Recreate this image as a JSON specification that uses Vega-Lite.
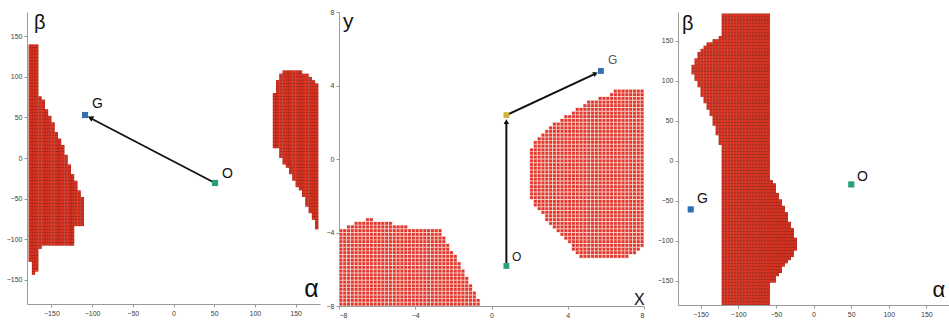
{
  "$schema": "https://vega.github.io/schema/vega-lite/v6.json",
  "padding": {"left": 6, "top": 8, "right": 0, "bottom": 0},
  "background": "white",
  "config": {
    "view": {"stroke": null},
    "axis": {
      "grid": false,
      "domainColor": "#9a9a9a",
      "tickColor": "#9a9a9a",
      "tickSize": 3,
      "labelFont": "Liberation Sans",
      "labelFontSize": 7,
      "labelColor": "#3a3a3a",
      "labelPadding": 2
    }
  },
  "datasets": {
    "p1cells": [
      {"x": -176, "top": 140, "bot": -128},
      {"x": -172, "top": 140, "bot": -144},
      {"x": -168, "top": 140, "bot": -140},
      {"x": -164, "top": 76, "bot": -112},
      {"x": -160, "top": 72, "bot": -108},
      {"x": -156, "top": 60, "bot": -108},
      {"x": -152, "top": 52, "bot": -108},
      {"x": -148, "top": 44, "bot": -108},
      {"x": -144, "top": 32, "bot": -108},
      {"x": -140, "top": 24, "bot": -108},
      {"x": -136, "top": 16, "bot": -108},
      {"x": -132, "top": 4, "bot": -108},
      {"x": -128, "top": -8, "bot": -108},
      {"x": -124, "top": -20, "bot": -108},
      {"x": -120, "top": -28, "bot": -84},
      {"x": -116, "top": -40, "bot": -84},
      {"x": -112, "top": -48, "bot": -84},
      {"x": 124, "top": 80, "bot": 12},
      {"x": 128, "top": 96, "bot": 12},
      {"x": 132, "top": 104, "bot": 0},
      {"x": 136, "top": 108, "bot": -8},
      {"x": 140, "top": 108, "bot": -12},
      {"x": 144, "top": 108, "bot": -20},
      {"x": 148, "top": 108, "bot": -28},
      {"x": 152, "top": 108, "bot": -36},
      {"x": 156, "top": 108, "bot": -40},
      {"x": 160, "top": 104, "bot": -48},
      {"x": 164, "top": 104, "bot": -60},
      {"x": 168, "top": 100, "bot": -68},
      {"x": 172, "top": 96, "bot": -76},
      {"x": 176, "top": 92, "bot": -88}
    ],
    "p2cells": [
      {"x": -7.9, "top": -3.8, "bot": -8.0},
      {"x": -7.7, "top": -3.8, "bot": -8.0},
      {"x": -7.5, "top": -3.6, "bot": -8.0},
      {"x": -7.3, "top": -3.6, "bot": -8.0},
      {"x": -7.1, "top": -3.4, "bot": -8.0},
      {"x": -6.9, "top": -3.4, "bot": -8.0},
      {"x": -6.7, "top": -3.4, "bot": -8.0},
      {"x": -6.5, "top": -3.2, "bot": -8.0},
      {"x": -6.3, "top": -3.2, "bot": -8.0},
      {"x": -6.1, "top": -3.4, "bot": -8.0},
      {"x": -5.9, "top": -3.4, "bot": -8.0},
      {"x": -5.7, "top": -3.4, "bot": -8.0},
      {"x": -5.5, "top": -3.4, "bot": -8.0},
      {"x": -5.3, "top": -3.4, "bot": -8.0},
      {"x": -5.1, "top": -3.6, "bot": -8.0},
      {"x": -4.9, "top": -3.6, "bot": -8.0},
      {"x": -4.7, "top": -3.6, "bot": -8.0},
      {"x": -4.5, "top": -3.6, "bot": -8.0},
      {"x": -4.3, "top": -3.8, "bot": -8.0},
      {"x": -4.1, "top": -3.8, "bot": -8.0},
      {"x": -3.9, "top": -3.8, "bot": -8.0},
      {"x": -3.7, "top": -3.8, "bot": -8.0},
      {"x": -3.5, "top": -3.8, "bot": -8.0},
      {"x": -3.3, "top": -3.8, "bot": -8.0},
      {"x": -3.1, "top": -3.8, "bot": -8.0},
      {"x": -2.9, "top": -3.8, "bot": -8.0},
      {"x": -2.7, "top": -3.8, "bot": -8.0},
      {"x": -2.5, "top": -4.2, "bot": -8.0},
      {"x": -2.3, "top": -4.6, "bot": -8.0},
      {"x": -2.1, "top": -5.0, "bot": -8.0},
      {"x": -1.9, "top": -5.2, "bot": -8.0},
      {"x": -1.7, "top": -5.6, "bot": -8.0},
      {"x": -1.5, "top": -6.0, "bot": -8.0},
      {"x": -1.3, "top": -6.4, "bot": -8.0},
      {"x": -1.1, "top": -6.8, "bot": -8.0},
      {"x": -0.9, "top": -7.2, "bot": -8.0},
      {"x": -0.7, "top": -7.6, "bot": -8.0},
      {"x": 2.1, "top": 0.6, "bot": -2.2},
      {"x": 2.3, "top": 1.0, "bot": -2.6},
      {"x": 2.5, "top": 1.2, "bot": -2.8},
      {"x": 2.7, "top": 1.4, "bot": -3.0},
      {"x": 2.9, "top": 1.6, "bot": -3.4},
      {"x": 3.1, "top": 1.8, "bot": -3.6},
      {"x": 3.3, "top": 2.0, "bot": -3.8},
      {"x": 3.5, "top": 2.0, "bot": -4.0},
      {"x": 3.7, "top": 2.2, "bot": -4.2},
      {"x": 3.9, "top": 2.4, "bot": -4.4},
      {"x": 4.1, "top": 2.4, "bot": -4.6},
      {"x": 4.3, "top": 2.6, "bot": -5.0},
      {"x": 4.5, "top": 2.8, "bot": -5.2},
      {"x": 4.7, "top": 2.8, "bot": -5.4},
      {"x": 4.9, "top": 3.0, "bot": -5.4},
      {"x": 5.1, "top": 3.2, "bot": -5.4},
      {"x": 5.3, "top": 3.2, "bot": -5.4},
      {"x": 5.5, "top": 3.2, "bot": -5.4},
      {"x": 5.7, "top": 3.4, "bot": -5.4},
      {"x": 5.9, "top": 3.4, "bot": -5.4},
      {"x": 6.1, "top": 3.4, "bot": -5.4},
      {"x": 6.3, "top": 3.6, "bot": -5.4},
      {"x": 6.5, "top": 3.8, "bot": -5.4},
      {"x": 6.7, "top": 3.8, "bot": -5.4},
      {"x": 6.9, "top": 3.8, "bot": -5.4},
      {"x": 7.1, "top": 3.8, "bot": -5.4},
      {"x": 7.3, "top": 3.8, "bot": -5.2},
      {"x": 7.5, "top": 3.8, "bot": -5.2},
      {"x": 7.7, "top": 3.8, "bot": -5.0},
      {"x": 7.9, "top": 3.8, "bot": -4.8}
    ],
    "p3cells": [
      {"x": -160, "top": 120, "bot": 108},
      {"x": -156, "top": 128, "bot": 100},
      {"x": -152, "top": 136, "bot": 92},
      {"x": -148, "top": 140, "bot": 80},
      {"x": -144, "top": 144, "bot": 72},
      {"x": -140, "top": 148, "bot": 64},
      {"x": -136, "top": 148, "bot": 56},
      {"x": -132, "top": 152, "bot": 44},
      {"x": -128, "top": 152, "bot": 32},
      {"x": -124, "top": 156, "bot": 20},
      {"x": -120, "top": 184, "bot": -180},
      {"x": -116, "top": 184, "bot": -180},
      {"x": -112, "top": 184, "bot": -180},
      {"x": -108, "top": 184, "bot": -180},
      {"x": -104, "top": 184, "bot": -180},
      {"x": -100, "top": 184, "bot": -180},
      {"x": -96, "top": 184, "bot": -180},
      {"x": -92, "top": 184, "bot": -180},
      {"x": -88, "top": 184, "bot": -180},
      {"x": -84, "top": 184, "bot": -180},
      {"x": -80, "top": 184, "bot": -180},
      {"x": -76, "top": 184, "bot": -180},
      {"x": -72, "top": 184, "bot": -180},
      {"x": -68, "top": 184, "bot": -180},
      {"x": -64, "top": 184, "bot": -180},
      {"x": -60, "top": 184, "bot": -180},
      {"x": -56, "top": -24, "bot": -152},
      {"x": -52, "top": -28, "bot": -152},
      {"x": -48, "top": -40, "bot": -144},
      {"x": -44, "top": -48, "bot": -140},
      {"x": -40, "top": -56, "bot": -132},
      {"x": -36, "top": -64, "bot": -128},
      {"x": -32, "top": -76, "bot": -124},
      {"x": -28, "top": -84, "bot": -120},
      {"x": -24, "top": -96, "bot": -112}
    ]
  },
  "hconcat": [
    {
      "spacing": 19,
      "bounds": "flush",
      "hconcat": [
        {
          "width": 293,
          "height": 292,
          "layer": [
            {
              "data": {"name": "p1cells"},
              "mark": {"type": "rule", "color": "#9a2418", "strokeWidth": 3.3},
              "encoding": {
                "x": {"field": "x", "type": "quantitative", "title": null, "scale": {"domain": [-180, 180], "nice": false, "zero": false}, "axis": {"values": [-150, -100, -50, 0, 50, 100, 150]}},
                "y": {"field": "top", "type": "quantitative", "title": null, "scale": {"domain": [-180, 180], "nice": false, "zero": false}, "axis": {"values": [-150, -100, -50, 0, 50, 100, 150]}},
                "y2": {"field": "bot"}
              }
            },
            {
              "data": {"name": "p1cells"},
              "mark": {"type": "rule", "color": "#e0321f", "strokeWidth": 2.55, "strokeDash": [2.5, 0.7444], "strokeDashOffset": 2.8722},
              "encoding": {
                "x": {"field": "x", "type": "quantitative", "title": null},
                "y": {"field": "top", "type": "quantitative", "title": null},
                "y2": {"field": "bot"}
              }
            },
            {
              "data": {"values": [{"x": 51, "y": -30.8, "x2": -103.5, "y2": 50}]},
              "mark": {"type": "rule", "color": "#111111", "strokeWidth": 1.8},
              "encoding": {
                "x": {"field": "x", "type": "quantitative", "title": null},
                "y": {"field": "y", "type": "quantitative", "title": null},
                "x2": {"field": "x2"},
                "y2": {"field": "y2"}
              }
            },
            {
              "data": {"values": [{"x": -102.2, "y": 49.6}]},
              "mark": {"type": "point", "shape": "triangle-up", "filled": true, "color": "#111111", "opacity": 1, "size": 40, "angle": 297.6},
              "encoding": {
                "x": {"field": "x", "type": "quantitative", "title": null},
                "y": {"field": "y", "type": "quantitative", "title": null}
              }
            },
            {
              "data": {"values": [{"x": -108.7, "y": 53, "k": "G"}, {"x": 51, "y": -30.8, "k": "O"}]},
              "mark": {"type": "square", "size": 38, "opacity": 1},
              "encoding": {
                "x": {"field": "x", "type": "quantitative", "title": null},
                "y": {"field": "y", "type": "quantitative", "title": null},
                "color": {"field": "k", "type": "nominal", "scale": {"domain": ["G", "O", "W"], "range": ["#2f6db5", "#25a07a", "#d4b23c"]}, "legend": null}
              }
            },
            {
              "data": {"values": [{"x": -171.4, "y": 159, "t": "β"}]},
              "mark": {"type": "text", "align": "left", "baseline": "alphabetic", "font": "Liberation Sans", "fontSize": 20, "color": "#111111"},
              "encoding": {
                "x": {"field": "x", "type": "quantitative", "title": null},
                "y": {"field": "y", "type": "quantitative", "title": null},
                "text": {"field": "t"}
              }
            },
            {
              "data": {"values": [{"x": 160.5, "y": -171.4, "t": "α"}]},
              "mark": {"type": "text", "align": "left", "baseline": "alphabetic", "font": "Liberation Sans", "fontSize": 25, "color": "#111111"},
              "encoding": {
                "x": {"field": "x", "type": "quantitative", "title": null},
                "y": {"field": "y", "type": "quantitative", "title": null},
                "text": {"field": "t"}
              }
            },
            {
              "data": {"values": [{"x": -100.1, "y": 61.6, "t": "G"}, {"x": 59.6, "y": -24.7, "t": "O"}]},
              "mark": {"type": "text", "align": "left", "baseline": "alphabetic", "font": "Liberation Sans", "fontSize": 14, "color": "#111111"},
              "encoding": {
                "x": {"field": "x", "type": "quantitative", "title": null},
                "y": {"field": "y", "type": "quantitative", "title": null},
                "text": {"field": "t"}
              }
            }
          ]
        },
        {
          "width": 305,
          "height": 294,
          "layer": [
            {
              "data": {"name": "p2cells"},
              "mark": {"type": "rule", "color": "#f4c9bf", "strokeWidth": 3.85},
              "encoding": {
                "x": {"field": "x", "type": "quantitative", "title": null, "scale": {"domain": [-8, 8], "nice": false, "zero": false}, "axis": {"values": [-8, -6, -4, -2, 0, 2, 4, 6, 8]}},
                "y": {"field": "top", "type": "quantitative", "title": null, "scale": {"domain": [-8, 8], "nice": false, "zero": false}, "axis": {"values": [-8, -6, -4, -2, 0, 2, 4, 6, 8]}},
                "y2": {"field": "bot"}
              }
            },
            {
              "data": {"name": "p2cells"},
              "mark": {"type": "rule", "color": "#e2362e", "strokeWidth": 2.85, "strokeDash": [2.75, 0.925], "strokeDashOffset": 3.2125},
              "encoding": {
                "x": {"field": "x", "type": "quantitative", "title": null},
                "y": {"field": "top", "type": "quantitative", "title": null},
                "y2": {"field": "bot"}
              }
            },
            {
              "data": {"values": [{"x": 0.78, "y": -5.66, "x2": 0.78, "y2": 2.0}, {"x": 0.78, "y": 2.39, "x2": 5.4, "y2": 4.62}]},
              "mark": {"type": "rule", "color": "#111111", "strokeWidth": 2},
              "encoding": {
                "x": {"field": "x", "type": "quantitative", "title": null},
                "y": {"field": "y", "type": "quantitative", "title": null},
                "x2": {"field": "x2"},
                "y2": {"field": "y2"}
              }
            },
            {
              "data": {"values": [{"x": 0.78, "y": 2.03}]},
              "mark": {"type": "point", "shape": "triangle-up", "filled": true, "color": "#111111", "opacity": 1, "size": 30, "angle": 0},
              "encoding": {
                "x": {"field": "x", "type": "quantitative", "title": null},
                "y": {"field": "y", "type": "quantitative", "title": null}
              }
            },
            {
              "data": {"values": [{"x": 5.46, "y": 4.65}]},
              "mark": {"type": "point", "shape": "triangle-up", "filled": true, "color": "#111111", "opacity": 1, "size": 30, "angle": 65},
              "encoding": {
                "x": {"field": "x", "type": "quantitative", "title": null},
                "y": {"field": "y", "type": "quantitative", "title": null}
              }
            },
            {
              "data": {"values": [{"x": 5.74, "y": 4.79, "k": "G"}, {"x": 0.78, "y": -5.82, "k": "O"}, {"x": 0.78, "y": 2.39, "k": "W"}]},
              "mark": {"type": "square", "size": 34, "opacity": 1},
              "encoding": {
                "x": {"field": "x", "type": "quantitative", "title": null},
                "y": {"field": "y", "type": "quantitative", "title": null},
                "color": {"field": "k", "type": "nominal", "scale": {"domain": ["G", "O", "W"], "range": ["#2f6db5", "#25a07a", "#d4b23c"]}, "legend": null}
              }
            },
            {
              "data": {"values": [{"x": -7.79, "y": 7.13, "t": "y"}]},
              "mark": {"type": "text", "align": "left", "baseline": "alphabetic", "font": "Liberation Sans", "fontSize": 21, "color": "#111111"},
              "encoding": {
                "x": {"field": "x", "type": "quantitative", "title": null},
                "y": {"field": "y", "type": "quantitative", "title": null},
                "text": {"field": "t"}
              }
            },
            {
              "data": {"values": [{"x": 7.48, "y": -7.95, "t": "X"}]},
              "mark": {"type": "text", "align": "left", "baseline": "alphabetic", "font": "Liberation Sans", "fontSize": 16, "color": "#111111"},
              "encoding": {
                "x": {"field": "x", "type": "quantitative", "title": null},
                "y": {"field": "y", "type": "quantitative", "title": null},
                "text": {"field": "t"}
              }
            },
            {
              "data": {"values": [{"x": 6.11, "y": 5.17, "t": "G"}]},
              "mark": {"type": "text", "align": "left", "baseline": "alphabetic", "font": "Liberation Sans", "fontSize": 12, "color": "#555555"},
              "encoding": {
                "x": {"field": "x", "type": "quantitative", "title": null},
                "y": {"field": "y", "type": "quantitative", "title": null},
                "text": {"field": "t"}
              }
            },
            {
              "data": {"values": [{"x": 1.08, "y": -5.55, "t": "O"}]},
              "mark": {"type": "text", "align": "left", "baseline": "alphabetic", "font": "Liberation Sans", "fontSize": 12, "color": "#222222"},
              "encoding": {
                "x": {"field": "x", "type": "quantitative", "title": null},
                "y": {"field": "y", "type": "quantitative", "title": null},
                "text": {"field": "t"}
              }
            }
          ]
        }
      ]
    },
    {
      "width": 271,
      "height": 293,
      "layer": [
        {
          "data": {"name": "p3cells"},
          "mark": {"type": "rule", "color": "#9a2418", "strokeWidth": 3.05},
          "encoding": {
            "x": {"field": "x", "type": "quantitative", "title": null, "scale": {"domain": [-180, 180], "nice": false, "zero": false}, "axis": {"values": [-150, -100, -50, 0, 50, 100, 150]}},
            "y": {"field": "top", "type": "quantitative", "title": null, "scale": {"domain": [-180, 186], "nice": false, "zero": false}, "axis": {"values": [-150, -100, -50, 0, 50, 100, 150]}},
            "y2": {"field": "bot"}
          }
        },
        {
          "data": {"name": "p3cells"},
          "mark": {"type": "rule", "color": "#e0321f", "strokeWidth": 2.35, "strokeDash": [2.4, 0.8022], "strokeDashOffset": 2.8011},
          "encoding": {
            "x": {"field": "x", "type": "quantitative", "title": null},
            "y": {"field": "top", "type": "quantitative", "title": null},
            "y2": {"field": "bot"}
          }
        },
        {
          "data": {"values": [{"x": -163.1, "y": -60.6, "k": "G"}, {"x": 50.2, "y": -29.4, "k": "O"}]},
          "mark": {"type": "square", "size": 38, "opacity": 1},
          "encoding": {
            "x": {"field": "x", "type": "quantitative", "title": null},
            "y": {"field": "y", "type": "quantitative", "title": null},
            "color": {"field": "k", "type": "nominal", "scale": {"domain": ["G", "O", "W"], "range": ["#2f6db5", "#25a07a", "#d4b23c"]}, "legend": null}
          }
        },
        {
          "data": {"values": [{"x": -174.7, "y": 163.5, "t": "β"}]},
          "mark": {"type": "text", "align": "left", "baseline": "alphabetic", "font": "Liberation Sans", "fontSize": 20, "color": "#111111"},
          "encoding": {
            "x": {"field": "x", "type": "quantitative", "title": null},
            "y": {"field": "y", "type": "quantitative", "title": null},
            "text": {"field": "t"}
          }
        },
        {
          "data": {"values": [{"x": 158, "y": -170, "t": "α"}]},
          "mark": {"type": "text", "align": "left", "baseline": "alphabetic", "font": "Liberation Sans", "fontSize": 22, "color": "#111111"},
          "encoding": {
            "x": {"field": "x", "type": "quantitative", "title": null},
            "y": {"field": "y", "type": "quantitative", "title": null},
            "text": {"field": "t"}
          }
        },
        {
          "data": {"values": [{"x": -154.8, "y": -52.75, "t": "G"}, {"x": 57.8, "y": -25, "t": "O"}]},
          "mark": {"type": "text", "align": "left", "baseline": "alphabetic", "font": "Liberation Sans", "fontSize": 14, "color": "#111111"},
          "encoding": {
            "x": {"field": "x", "type": "quantitative", "title": null},
            "y": {"field": "y", "type": "quantitative", "title": null},
            "text": {"field": "t"}
          }
        }
      ]
    }
  ],
  "spacing": 12
}
